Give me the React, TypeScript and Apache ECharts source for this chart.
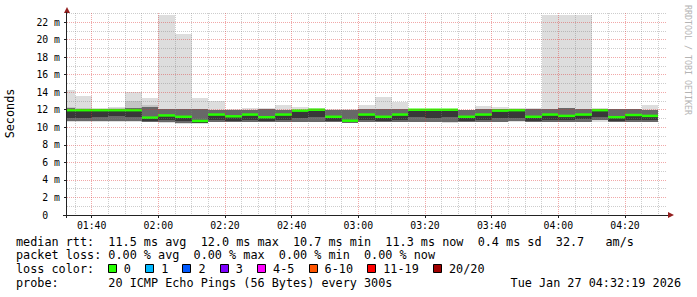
import React, { useEffect, useRef } from 'react';
import * as echarts from 'echarts';

// 5-minute slots (start time of each step)
const slotTimes = ['01:30','01:35','01:40','01:45','01:50','01:55','02:00','02:05','02:10','02:15','02:20','02:25','02:30','02:35','02:40','02:45','02:50','02:55','03:00','03:05','03:10','03:15','03:20','03:25','03:30','03:35','03:40','03:45','03:50','03:55','04:00','04:05','04:10','04:15','04:20','04:25'];

// smoke envelope (ms)
const maxRtt = [14.25,13.55,12.15,12.35,14.05,13.3,22.8,20.6,13.3,13.0,12.1,12.15,12.25,12.55,12.3,12.15,12.1,12.05,12.55,13.45,12.9,12.05,12.05,12.05,12.0,12.4,12.27,12.15,12.15,22.8,22.8,22.8,12.15,12.1,12.1,12.5];
const upperOuter = [12.35,12.2,12.05,12.2,13.0,12.5,12.05,12.05,12.05,12.0,12.0,12.0,12.05,12.0,12.0,12.05,12.0,11.95,12.05,12.05,12.05,12.02,12.02,12.02,11.95,12.05,12.05,12.05,12.05,12.1,12.15,12.05,12.05,12.05,12.05,12.0];
const upperInner = [12.15,12.1,12.02,12.05,12.15,12.3,12.05,12.05,12.05,12.0,12.0,12.0,12.05,12.0,12.0,12.05,12.0,11.95,12.05,12.05,12.05,12.02,12.02,12.02,11.95,12.05,12.05,12.05,12.05,12.1,12.15,12.05,12.05,12.05,12.05,12.0];
const medianRtt = [11.95,11.95,11.95,11.95,11.95,11.1,11.35,11.2,10.72,11.45,11.25,11.45,11.15,11.45,11.9,12.0,11.2,10.75,11.45,11.2,11.45,12.0,12.0,12.0,11.2,11.45,11.9,11.95,11.2,11.45,11.3,11.45,11.95,11.15,11.4,11.3];
const lowerCore = [11.1,11.1,11.15,11.3,11.2,10.75,10.8,10.75,10.5,10.85,10.7,10.8,10.75,10.8,11.1,11.2,10.75,10.55,10.8,10.75,10.8,11.2,11.1,11.2,10.75,10.8,11.1,11.1,10.75,10.8,10.8,10.9,11.2,10.75,10.85,10.8];
const lowerInner = [10.7,10.7,10.7,10.75,10.75,10.6,10.55,10.5,10.45,10.6,10.6,10.6,10.6,10.6,10.65,10.65,10.6,10.5,10.6,10.6,10.6,10.65,10.6,10.55,10.6,10.6,10.65,10.7,10.6,10.6,10.6,10.65,10.8,10.6,10.6,10.6];
const minRtt = [10.55,10.6,10.6,10.65,10.65,10.55,10.5,10.4,10.4,10.55,10.55,10.55,10.55,10.55,10.6,10.6,10.55,10.45,10.55,10.55,10.55,10.6,10.55,10.5,10.55,10.55,10.6,10.6,10.55,10.55,10.55,10.6,10.6,10.55,10.55,10.55];

// axes
const X_MIN = 92.6; // 01:32:36
const X_MAX = 272.6;
const Y_MAX = 23.03;

const legendLine1 = 'median rtt:  11.5 ms avg  12.0 ms max  10.7 ms min  11.3 ms now  0.4 ms sd  32.7   am/s';
const legendLine2 = 'packet loss: 0.00 % avg  0.00 % max  0.00 % min  0.00 % now';
const lossLabel = 'loss color:';
const lossNames = ['0', '1', '2', '3', '4-5', '6-10', '11-19', '20/20'];
const lossColors = ['#26ff00', '#00b8ff', '#0059ff', '#7e00ff', '#ff00ff', '#ff5500', '#ff0000', '#a00000'];
const probeLine = 'probe:       20 ICMP Echo Pings (56 Bytes) every 300s';
const dateText = 'Tue Jan 27 04:32:19 2026';
const yTitle = 'Seconds';
const credit = 'RRDTOOL / TOBI OETIKER';

const MONO = '"DejaVu Sans Mono", monospace';
const nb = (s: string) => s.replace(/ /g, '\u00a0');

function toMin(s: string) {
  const [h, m] = s.split(':').map(Number);
  return h * 60 + m;
}
function fmtTime(v: number) {
  const h = Math.floor(v / 60);
  const m = Math.round(v - h * 60);
  return String(h).padStart(2, '0') + ':' + String(m).padStart(2, '0');
}

export default function App() {
  const ref = useRef<HTMLDivElement>(null);
  useEffect(() => {
    if (!ref.current) return;
    const chart = echarts.init(ref.current, null, { renderer: 'svg' });
    const data = slotTimes.map((t, i) => [
      toMin(t), minRtt[i], lowerInner[i], lowerCore[i], medianRtt[i], upperInner[i], upperOuter[i], maxRtt[i],
    ]);

    const renderItem = (params: any, api: any) => {
      const t0 = api.value(0);
      const cs = params.coordSys;
      const xs = api.coord([t0, 0])[0];
      const xe = api.coord([t0 + 5, 0])[0];
      const x0 = Math.round(Math.max(xs, cs.x));
      const x1 = Math.round(Math.min(xe, cs.x + cs.width));
      if (x1 <= x0) return null;
      const yOf = (v: number) => api.coord([t0, v])[1];
      const band = (lo: number, hi: number, fill: string) => {
        const yt = Math.round(yOf(hi));
        const yb = Math.round(yOf(lo));
        return { type: 'rect', shape: { x: x0, y: yt, width: x1 - x0, height: Math.max(0, yb - yt) }, style: { fill } };
      };
      const mn = api.value(1), loI = api.value(2), loC = api.value(3), md = api.value(4), hiI = api.value(5), hiO = api.value(6), mx = api.value(7);
      const ym = yOf(md);
      return {
        type: 'group',
        children: [
          band(mn, mx, '#dddddd'),
          band(loI, hiO, '#c4c4c4'),
          band(loI, hiI, '#686868'),
          band(loC, md, '#383838'),
          { type: 'rect', shape: { x: x0, y: ym - 1.25, width: x1 - x0, height: 2.5 }, style: { fill: '#26ff00' } },
        ],
      };
    };

    const MAJOR = 'rgba(222,48,48,0.42)';
    const MINOR = 'rgba(130,130,130,0.4)';
    const AXIS = '#222';
    const textStyle = (size: number) => ({ fontFamily: MONO, fontSize: size, fill: '#000' });

    const graphics: any[] = [];
    graphics.push({ type: 'text', x: 10, y: 113.5, rotation: Math.PI / 2, style: { ...textStyle(11.8), text: yTitle, align: 'center', verticalAlign: 'middle' } });
    graphics.push({ type: 'text', x: 688, y: 60, rotation: -Math.PI / 2, style: { fontFamily: MONO, fontSize: 8.3, fill: '#b4b4b4', text: nb(credit), align: 'center', verticalAlign: 'middle' } });
    // arrows
    graphics.push({ type: 'polygon', shape: { points: [[64, 13], [70, 13], [67, 7]] }, style: { fill: '#931f1f' } });
    graphics.push({ type: 'polygon', shape: { points: [[668, 212], [668, 218], [674, 215]] }, style: { fill: '#931f1f' } });
    graphics.push({ type: 'line', shape: { x1: 63, y1: 215.5, x2: 668, y2: 215.5 }, style: { stroke: AXIS, lineWidth: 1 } });
    graphics.push({ type: 'line', shape: { x1: 66.5, y1: 218, x2: 66.5, y2: 12 }, style: { stroke: AXIS, lineWidth: 1 } });

    const CW = 7.104;
    const LX = 16;
    graphics.push({ type: 'text', x: LX, y: 241.5, style: { ...textStyle(11.8), text: nb(legendLine1), verticalAlign: 'middle' } });
    graphics.push({ type: 'text', x: LX, y: 255, style: { ...textStyle(11.8), text: nb(legendLine2), verticalAlign: 'middle' } });
    graphics.push({ type: 'text', x: LX, y: 269, style: { ...textStyle(11.8), text: nb(lossLabel), verticalAlign: 'middle' } });
    let bx = LX + 13 * CW - 0.5;
    lossNames.forEach((name, i) => {
      graphics.push({ type: 'rect', shape: { x: Math.round(bx) + 0.5, y: 264.5, width: 8, height: 8 }, style: { fill: lossColors[i], stroke: '#000', lineWidth: 1 } });
      graphics.push({ type: 'text', x: bx + 16, y: 269, style: { ...textStyle(11.8), text: name, verticalAlign: 'middle' } });
      bx += 16 + name.length * CW + 2 * CW;
    });
    graphics.push({ type: 'text', x: LX, y: 282.7, style: { ...textStyle(11.8), text: nb(probeLine), verticalAlign: 'middle' } });
    graphics.push({ type: 'text', x: 681, y: 282.7, style: { ...textStyle(11.8), text: nb(dateText), align: 'right', verticalAlign: 'middle' } });

    chart.setOption({
      animation: false,
      backgroundColor: '#ffffff',
      grid: { left: 67, right: 30, top: 13, bottom: 82, containLabel: false },
      xAxis: {
        type: 'value', min: X_MIN, max: X_MAX, splitNumber: 9,
        axisLine: { show: false },
        axisTick: { show: true, length: 3, lineStyle: { color: AXIS } },
        axisLabel: {
          margin: 5, color: '#000', fontFamily: MONO, fontSize: 9.8, showMinLabel: false, showMaxLabel: false,
          formatter: (v: number) => (Math.abs(v % 20) < 1e-6 ? fmtTime(v) : ''),
        },
        splitLine: { show: true, showMinLine: false, showMaxLine: false, lineStyle: { color: MAJOR, type: [1, 1], width: 1 } },
        minorTick: { show: false, splitNumber: 4 },
        minorSplitLine: { show: true, lineStyle: { color: MINOR, type: [1, 1], width: 1 } },
      },
      yAxis: {
        type: 'value', min: 0, max: Y_MAX, interval: 2,
        axisLine: { show: false },
        axisTick: { show: true, length: 3, lineStyle: { color: AXIS } },
        axisLabel: {
          margin: 7, color: '#000', fontFamily: MONO, fontSize: 9.8, showMaxLabel: false,
          formatter: (v: number) => (v === 0 ? '0\u00a0\u00a0' : Math.abs(v % 2) < 1e-6 ? v + '\u00a0m' : ''),
        },
        splitLine: { show: true, showMinLine: false, showMaxLine: false, lineStyle: { color: MAJOR, type: [1, 1], width: 1 } },
        minorTick: { show: false, splitNumber: 2 },
        minorSplitLine: { show: true, lineStyle: { color: MINOR, type: [1, 1], width: 1 } },
      },
      series: [
        { type: 'custom', renderItem, data, clip: true, z: -1, silent: true, encode: { x: 0, y: [1, 7] } },
      ],
      graphic: graphics,
    });
    return () => chart.dispose();
  }, []);
  return <div ref={ref} style={{ position: 'fixed', left: 0, top: 0, width: 697, height: 297 }} />;
}
